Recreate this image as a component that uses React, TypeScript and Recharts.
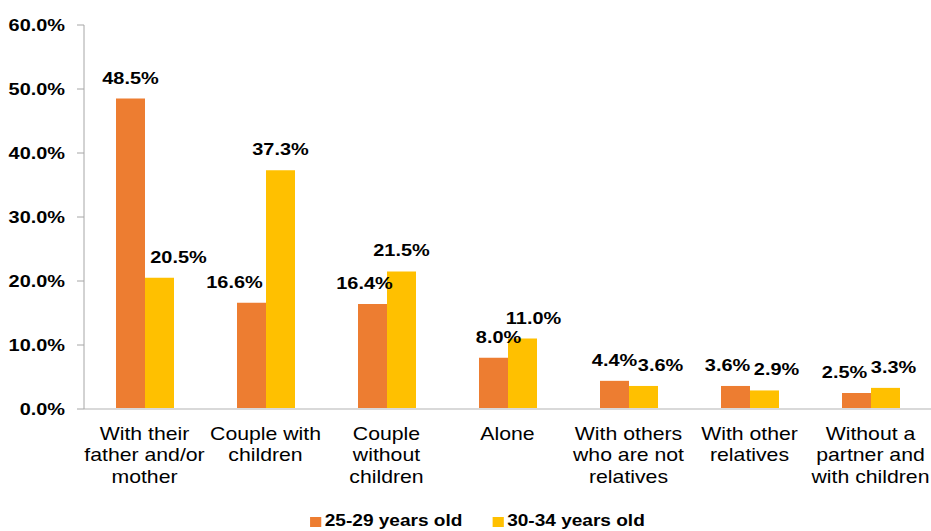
import { BarChart, Bar, XAxis, YAxis, LabelList } from "recharts";

const categories = [
  "With their\nfather and/or\nmother",
  "Couple with\nchildren",
  "Couple\nwithout\nchildren",
  "Alone",
  "With others\nwho are not\nrelatives",
  "With other\nrelatives",
  "Without a\npartner and\nwith children",
];
const ages25to29 = [48.5, 16.6, 16.4, 8.0, 4.4, 3.6, 2.5];
const ages30to34 = [20.5, 37.3, 21.5, 11.0, 3.6, 2.9, 3.3];
const yTicks = [0, 10, 20, 30, 40, 50, 60];

// horizontal nudges for data labels, like the hand-placed labels in the original
const shiftA = [0, -17, -8, 5, 0, -8, -12];
const shiftB = [19, 0, 0, 11, 17, 12, 8];

const data = categories.map((name, i) => ({
  name,
  a: ages25to29[i],
  b: ages30to34[i],
}));

const FONT = "'Liberation Sans', Arial, sans-serif";
const STRETCH = 1.17;

const pct = (v: number) => `${Number(v).toFixed(1)}%`;

function YTick(props: any) {
  const { x, y, payload } = props;
  return (
    <g transform={`translate(${x},${y}) scale(${STRETCH},1)`}>
      <text
        textAnchor="end"
        dy={6}
        fontFamily={FONT}
        fontSize={17}
        fontWeight="bold"
        fill="#000"
      >
        {pct(payload.value)}
      </text>
    </g>
  );
}

function CategoryTick(props: any) {
  const { x, y, payload } = props;
  const lines = String(payload.value).split("\n");
  return (
    <g transform={`translate(${x},${y}) scale(1.18,1)`}>
      <text textAnchor="middle" fontFamily={FONT} fontSize={18} fill="#000">
        {lines.map((l, i) => (
          <tspan key={i} x={0} y={31 + i * 21.5}>
            {l}
          </tspan>
        ))}
      </text>
    </g>
  );
}

function makeLabel(shifts: number[]) {
  return function ValueLabel(props: any) {
    const { x, y, width, value, index } = props;
    const cx = x + width / 2 + (shifts[index] || 0);
    return (
      <g transform={`translate(${cx},${y - 15}) scale(${STRETCH},1)`}>
        <text
          textAnchor="middle"
          fontFamily={FONT}
          fontSize={17}
          fontWeight="bold"
          fill="#000"
        >
          {pct(value)}
        </text>
      </g>
    );
  };
}

function LegendBox() {
  const items = [
    { label: "25-29 years old", color: "#ED7D31" },
    { label: "30-34 years old", color: "#FFC000" },
  ];
  return (
    <div
      style={{
        display: "flex",
        justifyContent: "center",
        gap: 27,
        fontFamily: FONT,
        fontWeight: "bold",
        fontSize: 17,
        lineHeight: "20px",
        color: "#000",
        transform: "translateX(12px) scaleX(1.12)",
      }}
    >
      {items.map((it) => (
        <div key={it.label} style={{ display: "flex", alignItems: "center" }}>
          <span
            style={{
              display: "inline-block",
              width: 10,
              height: 10,
              background: it.color,
              marginRight: 3,
              marginTop: 2,
            }}
          />
          {it.label}
        </div>
      ))}
    </div>
  );
}

export default function App() {
  return (
    <div style={{ position: "absolute", left: 0, top: 0, background: "#fff" }}>
      <BarChart
        width={931}
        height={531}
        data={data}
        margin={{ top: 25, right: 0, bottom: 0, left: 0 }}
        barGap={0}
        barSize={29}
      >
        <XAxis
          dataKey="name"
          interval={0}
          tick={<CategoryTick />}
          tickLine={false}
          tickSize={0}
          tickMargin={0}
          axisLine={{ stroke: "#d9d9d9", strokeWidth: 2 }}
          height={122}
        />
        <YAxis
          width={84}
          domain={[0, 60]}
          ticks={yTicks}
          tick={<YTick />}
          tickLine={{ stroke: "#a6a6a6" }}
          tickSize={7}
          tickMargin={12}
          axisLine={{ stroke: "#a6a6a6" }}
        />
        <Bar dataKey="a" fill="#ED7D31" isAnimationActive={false}>
          <LabelList dataKey="a" content={makeLabel(shiftA)} />
        </Bar>
        <Bar dataKey="b" fill="#FFC000" isAnimationActive={false}>
          <LabelList dataKey="b" content={makeLabel(shiftB)} />
        </Bar>
      </BarChart>
      <div style={{ position: "absolute", left: 0, top: 511, width: 931 }}>
        <LegendBox />
      </div>
    </div>
  );
}
